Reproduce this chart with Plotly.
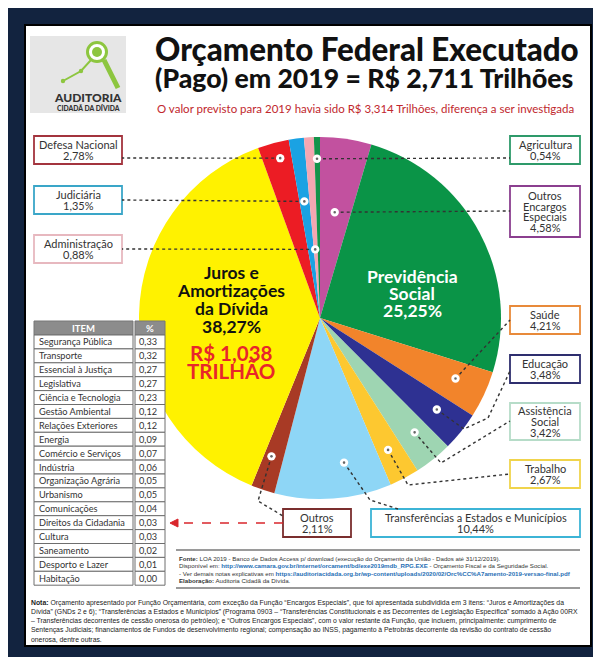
import math
import plotly.graph_objects as go

W, H = 601, 657

# ---------------- data ----------------
categories = ["Outros Encargos Especiais", "Previdência Social", "Saúde", "Educação",
              "Assistência Social", "Trabalho", "Transferências a Estados e Municípios",
              "Outros", "Juros e Amortizações da Dívida", "Defesa Nacional", "Judiciária",
              "Administração", "Agricultura"]
values = [4.58, 25.25, 4.21, 3.48, 3.42, 2.67, 10.44, 2.11, 38.27, 2.78, 1.35, 0.88, 0.54]
value_labels = ["4,58%", "25,25%", "4,21%", "3,48%", "3,42%", "2,67%", "10,44%",
                "2,11%", "38,27%", "2,78%", "1,35%", "0,88%", "0,54%"]
slice_colors = ["#C2519F", "#0A9447", "#F2842B", "#2E3192", "#9ED5B2", "#FDC830",
                "#8ED6F6", "#A83A25", "#FFF200", "#EC1C24", "#1AA2E3", "#F4A7B2", "#13934A"]

table_items = ["Segurança Pública", "Transporte", "Essencial à Justiça", "Legislativa",
               "Ciência e Tecnologia", "Gestão Ambiental", "Relações Exteriores", "Energia",
               "Comércio e Serviços", "Indústria", "Organização Agrária", "Urbanismo",
               "Comunicações", "Direitos da Cidadania", "Cultura", "Saneamento",
               "Desporto e Lazer", "Habitação"]
table_values = ["0,33", "0,32", "0,27", "0,27", "0,23", "0,12", "0,12", "0,09", "0,07",
                "0,06", "0,05", "0,05", "0,04", "0,03", "0,03", "0,02", "0,01", "0,00"]

title_1 = "Orçamento Federal Executado"
title_2 = "(Pago) em 2019 = R$ 2,711 Trilhões"
subtitle = "O valor previsto para 2019 havia sido R$ 3,314 Trilhões, diferença a ser investigada"

# ---------------- helpers (pixel -> paper) ----------------
def X(x):
    return x / W

def Y(y):
    return 1 - y / H

CAL = "Lato, Carlito, Calibri, sans-serif"
ARIAL = "Liberation Sans, Arial, sans-serif"

shapes = []
annotations = []

def rect(x0, y0, x1, y1, fill="rgba(0,0,0,0)", line="#000", lw=1, layer="above"):
    shapes.append(dict(type="rect", xref="paper", yref="paper", x0=X(x0), x1=X(x1),
                       y0=Y(y1), y1=Y(y0), fillcolor=fill,
                       line=dict(color=line, width=lw), layer=layer))

def text(x, y, t, size, color="#333", family=CAL, xanchor="center", yanchor="middle",
         align="center", weight="normal"):
    annotations.append(dict(x=X(x), y=Y(y), xref="paper", yref="paper", text=t,
                            showarrow=False, xanchor=xanchor, yanchor=yanchor, align=align,
                            borderpad=0,
                            font=dict(size=size, color=color, family=family, weight=weight)))

def stack(x, yc, lines, size, lh, color="#333", weight="normal", family=CAL):
    n = len(lines)
    for k, ln in enumerate(lines):
        text(x, yc + (k - (n - 1) / 2) * lh, ln, size, color=color, family=family, weight=weight)

def path(points, color="#333", lw=1.4, dash="dot", close=False, fill=None):
    d = "M " + " L ".join(f"{X(px):.5f},{Y(py):.5f}" for px, py in points)
    if close:
        d += " Z"
    s = dict(type="path", xref="paper", yref="paper", path=d,
             line=dict(color=color, width=lw, dash=dash), layer="above")
    if fill:
        s["fillcolor"] = fill
    shapes.append(s)

def circle(cx, cy, r, fill, line="rgba(0,0,0,0)", lw=0):
    shapes.append(dict(type="circle", xref="paper", yref="paper",
                       x0=X(cx - r), x1=X(cx + r), y0=Y(cy + r), y1=Y(cy - r),
                       fillcolor=fill, line=dict(color=line, width=lw), layer="above"))

# ---------------- frame ----------------
rect(17, 17, 583, 638, fill="#FFFFFF", line="#000000", lw=2, layer="below")

# ---------------- logo ----------------
rect(22, 28, 118, 105, fill="#E6E6E6", line="rgba(0,0,0,0)", lw=0, layer="below")
path([(55, 73), (73, 63), (83, 52)], color="#8DC63F", lw=2, dash="solid")
path([(96, 52), (110, 80)], color="#8DC63F", lw=5, dash="solid")
circle(89, 44, 9.5, fill="#FFFFFF", line="#8DC63F", lw=3)
circle(89, 44, 5, fill="#8DC63F")
circle(55, 73, 2.2, fill="#8DC63F")
circle(73, 63, 2.2, fill="#8DC63F")
text(80, 89, "AUDITORIA", 12, color="#333333", weight=900)
text(80, 100, "CIDADÃ DA DÍVIDA", 6.8, color="#333333", weight=900)

# ---------------- titles ----------------
text(146, 41, title_1, 31.3, color="#111111", xanchor="left", weight=900)
text(146, 70, title_2, 26.6, color="#111111", xanchor="left", weight=900)
text(148, 100, subtitle, 11.5, color="#C1272D", xanchor="left")

# ---------------- pie ----------------
CX, CY, R = 312, 310, 181
fig = go.Figure()
fig.add_trace(go.Pie(
    values=values, labels=categories, sort=False, direction="clockwise", rotation=0,
    marker=dict(colors=slice_colors, line=dict(width=0)), textinfo="none",
    hovertemplate="%{label}: %{value}%<extra></extra>", showlegend=False,
    domain=dict(x=[X(CX - R), X(CX + R)], y=[Y(CY + R), Y(CY - R)]),
))

total = sum(values)
starts = []
acc = 0.0
for v in values:
    starts.append(acc)
    acc += v

def anchor(i, frac, rf):
    a = math.radians(360.0 * (starts[i] + frac * values[i]) / total)
    r = rf * R
    return CX + r * math.sin(a), CY - r * math.cos(a)

# inside labels
stack(223, 291.5, ["Juros e", "Amortizações", "da Dívida", value_labels[8]], 17.5, 17.7,
      color="#111111", weight="bold")
stack(223, 354, ["R$ 1,038", "TRILHÃO"], 20.5, 18.5, color="#E8262A", weight="bold")
stack(404, 285, ["Previdência", "Social", value_labels[1]], 17.5, 17, color="#FFFFFF", weight="bold")

# ---------------- callouts ----------------
# (slice index, box x0,y0,x1,y1, border colour, label lines, anchor frac, radius frac, elbow points)
callouts = [
    (9, (26, 128, 114, 156), "#A3343E", ["Defesa Nacional"], 0.60, 0.91, [(114, 150)]),
    (10, (26, 178, 114, 206), "#3AA6C8", ["Judiciária"], 0.48, 0.65, [(114, 192)]),
    (11, (26, 227, 114, 255), "#E7B8BF", ["Administração"], 0.35, 0.38, [(114, 241)]),
    (12, (502, 128, 572, 156), "#2E9A6A", ["Agricultura"], 0.45, 0.88, [(502, 150)]),
    (0, (502, 178, 572, 229), "#8B3F8F", ["Outros", "Encargos", "Especiais"], 0.48, 0.59, [(502, 203)]),
    (2, (502, 298, 572, 326), "#E88A3A", ["Saúde"], 0.44, 0.82, [(502, 312)]),
    (3, (502, 347, 572, 375), "#2E2E6E", ["Educação"], 0.44, 0.82, [(456, 421), (480, 410), (502, 363)]),
    (4, (502, 395, 572, 432), "#B6DCC8", ["Assistência", "Social"], 0.43, 0.82, [(433, 455), (502, 413)]),
    (5, (502, 452, 572, 480), "#F0D44C", ["Trabalho"], 0.55, 0.82, [(400, 477), (502, 466)]),
    (6, (363, 501, 572, 529), "#3CB4D6", ["Transferências a Estados e Municípios"], 0.36, 0.81, [(362, 492), (390, 501)]),
    (7, (275, 501, 343, 529), "#7A2E2E", ["Outros"], 0.62, 0.81, [(250, 493), (275, 508)]),
]

dots = []
for idx, (bx0, by0, bx1, by1), bcol, lab, frac, rf, elbows in callouts:
    rect(bx0, by0, bx1, by1, fill="#FFFFFF", line=bcol, lw=1.8)
    lines = lab + [value_labels[idx]]
    lh = 11.5 if len(lines) <= 2 else 10.6
    stack((bx0 + bx1) / 2, (by0 + by1) / 2, lines, 11, lh, color="#333333")
    ax, ay = anchor(idx, frac, rf)
    path([(ax, ay)] + elbows, color="#333333", lw=1.4, dash="dot")
    dots.append((ax, ay))

for ax, ay in dots:
    circle(ax, ay, 4.2, fill="#FFFFFF")
    circle(ax, ay, 1.3, fill="#666666")

# red dashed arrow from "Outros" to the table
path([(275, 515), (168, 515)], color="#D9262C", lw=1.6, dash="dash")
path([(162, 515), (170, 511), (170, 519)], color="#D9262C", lw=1, dash="solid", close=True, fill="#D9262C")

# ---------------- table ----------------
TX0, TXM, TX1 = 26, 125, 157
TY0, HDR, RH = 313, 14, 13.9
rect(TX0, TY0, TXM, TY0 + HDR, fill="#8C8C8C", line="#777777", lw=1)
rect(TXM + 2, TY0, TX1, TY0 + HDR, fill="#8C8C8C", line="#777777", lw=1)
text((TX0 + TXM) / 2, TY0 + HDR / 2, "ITEM", 9.5, color="#FFFFFF", weight="bold")
text((TXM + 2 + TX1) / 2, TY0 + HDR / 2, "%", 9.5, color="#FFFFFF", weight="bold")
for i, (item, val) in enumerate(zip(table_items, table_values)):
    y0 = TY0 + HDR + i * RH
    rect(TX0, y0, TXM, y0 + RH, fill="#FFFFFF", line="#6E6E6E", lw=1)
    rect(TXM + 2, y0, TX1, y0 + RH, fill="#FFFFFF", line="#6E6E6E", lw=1)
    text(TX0 + 4, y0 + RH / 2, item, 9.2, color="#333333", xanchor="left")
    text(TXM + 5, y0 + RH / 2, val, 9.2, color="#333333", xanchor="left")

# ---------------- sources ----------------
path([(168, 542), (572, 542)], color="#9A9A9A", lw=2, dash="solid")
path([(168, 580), (572, 580)], color="#9A9A9A", lw=2, dash="solid")
BLUE = "#1F6FB5"
src_lines = [
    "<b>Fonte:</b> LOA 2019 - Banco de Dados Access p/ download (execução do Orçamento da União - Dados até 31/12/2019).",
    f"Disponível em: <span style='color:{BLUE}'><b>http://www.camara.gov.br/internet/orcament/bd/exe2019mdb_RPG.EXE</b></span> - Orçamento Fiscal e da Seguridade Social.",
    f"- Ver demais notas explicativas em <span style='color:{BLUE}'><b>https://auditoriacidada.org.br/wp-content/uploads/2020/02/Orc%CC%A7amento-2019-versao-final.pdf</b></span>",
    "<b>Elaboração:</b> Auditoria Cidadã da Dívida.",
]
for k, t in enumerate(src_lines):
    text(170, 550 + k * 7.6, t, 6.15, color="#333333", family=ARIAL, xanchor="left", align="left")

nota_lines = [
    "<b>Nota:</b> Orçamento apresentado por Função Orçamentária, com exceção da Função “Encargos Especiais”, que foi apresentada subdividida em 3 itens: “Juros e Amortizações da",
    "Dívida” (GNDs 2 e 6); “Transferências a Estados e Municípios” (Programa 0903 – “Transferências Constitucionais e as Decorrentes de Legislação Específica” somado à Ação 00RX",
    "– Transferências decorrentes de cessão onerosa do petróleo); e “Outros Encargos Especiais”, com o valor restante da Função, que incluem, principalmente: cumprimento de",
    "Sentenças Judiciais; financiamentos de Fundos de desenvolvimento regional; compensação ao INSS, pagamento à Petrobrás decorrente da revisão do contrato de cessão",
    "onerosa, dentre outras.",
]
for k, t in enumerate(nota_lines):
    text(22, 595 + k * 9, t, 6.85, color="#1A1A1A", family=ARIAL, xanchor="left", align="left")

fig.update_layout(
    width=W, height=H, margin=dict(l=0, r=0, t=0, b=0),
    paper_bgcolor="#12233F", plot_bgcolor="#FFFFFF",
    shapes=shapes, annotations=annotations, showlegend=False,
)
fig.write_html("out.html")
